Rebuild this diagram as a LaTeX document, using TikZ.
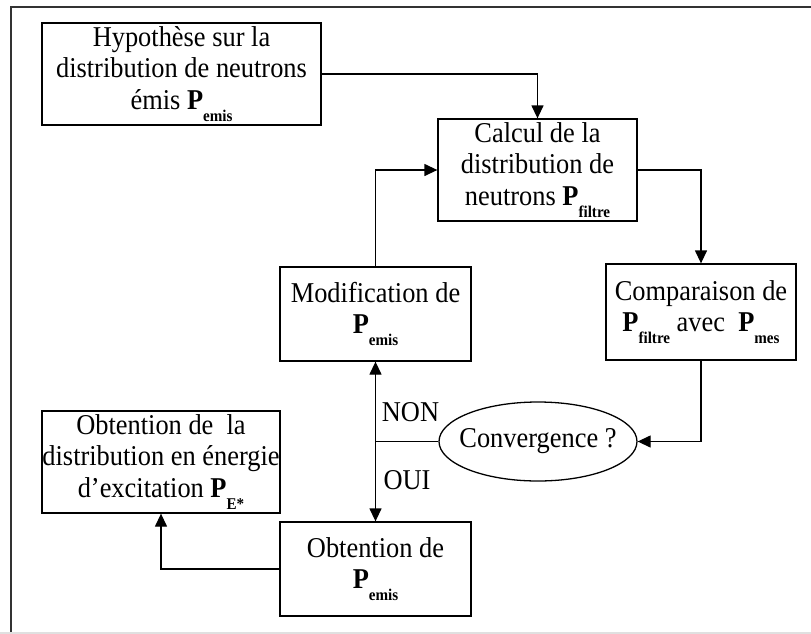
\documentclass[tikz,border=0pt]{standalone}
\usepackage{fontspec}
\setmainfont{Liberation Serif}[FakeStretch=0.92]
\usetikzlibrary{shapes.geometric,arrows.meta,positioning}

\newcommand{\Psub}[1]{\textbf{P}\raisebox{-0.36cm}{\fontsize{14}{14}\selectfont\textbf{#1}}}

\begin{document}
\begin{tikzpicture}[
    font=\fontsize{24.5}{26.8}\selectfont,
    box/.style={rectangle, draw=black, line width=1.1pt, inner sep=0pt,
                minimum height=3.06cm, align=center},
    ell/.style={ellipse, draw=black, line width=1.1pt, inner sep=0pt,
                minimum width=5.94cm, minimum height=2.37cm},
    arr/.style={-{Triangle[length=0.39cm, width=0.36cm]}, line width=1.1pt},
    lnk/.style={line width=1.1pt},
    lbl/.style={inner sep=0pt}
]

\useasboundingbox (0,0) rectangle (24.33,-19.02);

% ---- Frame ----
\draw[line width=1.8pt, black!80] (24.33,-0.21) -- (0.33,-0.21) -- (0.33,-19.02);
\draw[line width=1pt, black!12] (0,-18.99) -- (24.33,-18.99);

% ---- Hypothesis ----
\node[box, minimum width=8.37cm] (hyp) at (5.445,-2.22)
    {Hypoth\`ese sur la\\distribution de neutrons\\\'emis \Psub{emis}};

% ---- Filtered distribution ----
\node[box, minimum width=5.97cm] (calc) at (16.125,-5.1)
    {Calcul de la\\distribution de\\neutrons \Psub{filtre}};
\draw[arr] (hyp.east) -| (calc.north);

% ---- Comparison ----
\node[box, minimum width=5.70cm, minimum height=2.88cm] (comp) at (21.03,-9.36)
    {Comparaison de\\\Psub{filtre} avec~ \Psub{mes}};
\draw[arr] (calc.east) -| (comp.north);

% ---- Modification ----
\node[box, minimum width=5.73cm, minimum height=2.82cm] (modif) at (11.265,-9.42)
    {Modification de\\\Psub{emis}};
\draw[arr] (modif.north) |- (calc.west);

% ---- Convergence test ----
\node[ell] (conv) at (16.14,-13.245) {};
\node[lbl] (convtxt) at (conv.center) {Convergence ?};
\draw[arr] (comp.south) |- (conv.east);

\coordinate (split) at (11.265,-13.245);
\draw[lnk] (conv.west) -- (split);
\draw[arr] (split) -- (modif.south);
\node[lbl, anchor=south west] (non) at (11.45,-12.66) {NON};

% ---- Result ----
\node[box, minimum width=5.73cm, minimum height=2.82cm] (obt) at (11.265,-17.07)
    {Obtention de\\\Psub{emis}};
\draw[arr] (split) -- (obt.north);
\node[lbl, anchor=north west] (oui) at (11.5,-14.12) {OUI};

% ---- Excitation energy ----
\node[box, minimum width=7.14cm] (energ) at (4.83,-13.86)
    {Obtention de~ la\\distribution en \'energie\\d'excitation \Psub{E*}};
\draw[arr] (obt.west) -| (energ.south);

\end{tikzpicture}
\end{document}
